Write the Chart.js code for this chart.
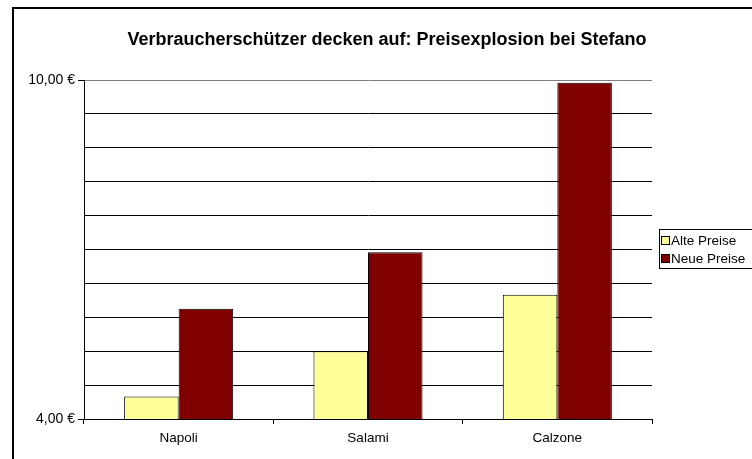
<!DOCTYPE html>
<html>
<head>
<meta charset="utf-8">
<script src="https://cdn.jsdelivr.net/npm/chart.js@4"></script>
<style>
  html, body { margin: 0; padding: 0; background: #fff; overflow: hidden; width: 752px; height: 459px; }
  #wrap { position: relative; width: 752px; height: 459px; }
  #frame { position: absolute; left: 12px; top: 7px; width: 900px; height: 600px; border-left: 2px solid #000; border-top: 2px solid #000; pointer-events: none; }
  #title { position: absolute; left: 0; width: 774px; top: 29px; text-align: center; font: bold 18px "Liberation Sans", Arial, sans-serif; color: #000; white-space: nowrap; }
  #legend { position: absolute; left: 659px; top: 229px; width: 120px; height: 38px; border: 1px solid #000; background: #fff; font: 13.5px "Liberation Sans", Arial, sans-serif; color: #000; }
  .item { position: absolute; left: 1px; height: 15px; line-height: 15px; white-space: nowrap; }
  .sw { display: inline-block; width: 7px; height: 7px; border: 1px solid #000; margin-right: 1px; vertical-align: 0px; }
  canvas { position: absolute; left: 0; top: 0; }
</style>
</head>
<body>
<div id="wrap">
  <canvas id="c" width="752" height="459"></canvas>
  <div id="frame"></div>
  <div id="title"></div>
  <div id="legend"></div>
</div>
<script>
const chartTitle = 'Verbraucherschützer decken auf: Preisexplosion bei Stefano';
const categories = ['Napoli', 'Salami', 'Calzone'];
const seriesNames = ['Alte Preise', 'Neue Preise'];
const altePreise = [4.40, 5.20, 6.20];
const neuePreise = [5.95, 6.95, 9.95];
const yMin = 4, yMax = 10, yStep = 0.6;
const colors = ['#FFFF99', '#800000'];

document.getElementById('title').textContent = chartTitle;
const leg = document.getElementById('legend');
seriesNames.forEach((n, i) => {
  const d = document.createElement('div');
  d.className = 'item';
  d.style.top = (3 + i * 18) + 'px';
  d.innerHTML = '<span class="sw" style="background:' + colors[i] + '"></span>';
  d.appendChild(document.createTextNode(n));
  leg.appendChild(d);
});

const fmt = v => v.toFixed(2).replace('.', ',') + ' €';

new Chart(document.getElementById('c'), {
  type: 'bar',
  data: {
    labels: categories,
    datasets: [
      { label: seriesNames[0], data: altePreise, backgroundColor: colors[0], borderColor: '#000', borderWidth: 1, borderSkipped: 'bottom' },
      { label: seriesNames[1], data: neuePreise, backgroundColor: colors[1], borderColor: '#000', borderWidth: 1, borderSkipped: 'bottom' }
    ]
  },
  options: {
    responsive: false,
    animation: false,
    events: [],
    layout: { padding: { top: 80, right: 100, left: 0, bottom: 0 } },
    plugins: { legend: { display: false }, title: { display: false }, tooltip: { enabled: false } },
    datasets: { bar: { categoryPercentage: 0.576, barPercentage: 1.0 } },
    scales: {
      x: {
        grid: {
          offset: true,
          drawOnChartArea: true,
          color: ctx => (ctx.index === categories.length ? '#808080' : 'rgba(0,0,0,0)'),
          tickColor: '#000',
          tickLength: 5,
          lineWidth: 1
        },
        border: { display: true, color: '#000', width: 1 },
        ticks: { color: '#000', font: { family: '"Liberation Sans", Arial, sans-serif', size: 13.5 }, padding: 6 },
        afterFit: s => { s.height = 40; }
      },
      y: {
        min: yMin, max: yMax,
        grid: {
          color: ctx => (ctx.tick && Math.abs(ctx.tick.value - yMax) < 1e-6 ? '#808080' : '#000'),
          tickColor: ctx => (ctx.tick && (Math.abs(ctx.tick.value - yMin) < 1e-6 || Math.abs(ctx.tick.value - yMax) < 1e-6) ? '#000' : 'rgba(0,0,0,0)'),
          tickLength: 6,
          lineWidth: 1
        },
        border: { display: true, color: '#000', width: 1 },
        ticks: {
          stepSize: yStep,
          autoSkip: false,
          padding: 3,
          color: '#000',
          font: { family: '"Liberation Sans", Arial, sans-serif', size: 14 },
          callback: (v, i, t) => (i === 0 || i === t.length - 1) ? fmt(v) : ''
        },
        afterFit: s => { s.width = 84; }
      }
    }
  }
});
</script>
</body>
</html>
